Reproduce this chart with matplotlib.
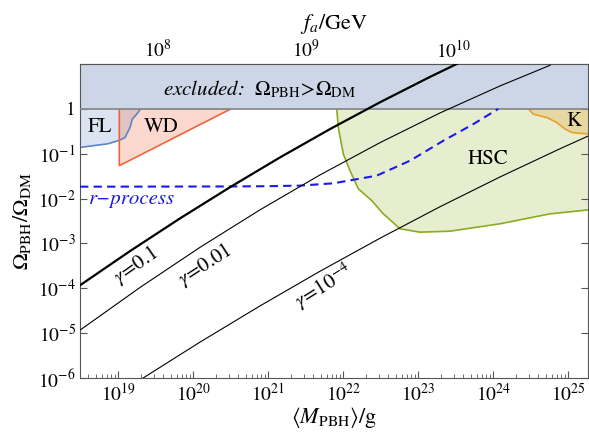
import numpy as np
import matplotlib
matplotlib.use('Agg')
import matplotlib.pyplot as plt
from matplotlib.ticker import FixedLocator, FuncFormatter, LogLocator, NullLocator, NullFormatter

plt.rcParams['font.family'] = 'STIXGeneral'
plt.rcParams['mathtext.fontset'] = 'stix'

# valores, em log10 (massa em g, Omega_PBH/Omega_DM)
gam01_logM = [18.49, 19.157, 19.823, 20.49, 21.157, 21.823, 22.49, 23.157, 23.517]
gam01_logO = [-3.933, -3.171, -2.442, -1.747, -1.082, -0.451, 0.147, 0.713, 1.004]

gam001_logM = [18.49, 19.29, 20.09, 20.89, 21.69, 22.49, 23.29, 24.09, 24.757]
gam001_logO = [-4.933, -3.982, -3.087, -2.251, -1.473, -0.753, -0.091, 0.511, 0.971]

gam1e4_logM = [19.29, 20.09, 20.89, 21.69, 22.49, 23.29, 24.09, 24.89, 25.277]
gam1e4_logO = [-6.044, -5.2, -4.393, -3.62, -2.884, -2.182, -1.518, -0.889, -0.597]

rproc_logM = [18.49, 19.5, 20.5, 21.0, 21.423, 21.867, 22.446, 22.89, 23.334, 23.734, 24.067]
rproc_logO = [-1.735, -1.733, -1.73, -1.724, -1.711, -1.66, -1.489, -1.156, -0.711, -0.34, 0.0]

fl_logM = [18.49, 18.863, 19.023, 19.09, 19.157, 19.187, 19.246, 19.299]
fl_logO = [-0.86, -0.778, -0.696, -0.638, -0.416, -0.229, -0.118, 0.0]

wd_logM = [19.014, 19.014, 20.503]
wd_logO = [0.0, -1.267, 0.0]

hsc_logM = [21.913, 21.934, 22.001, 22.09, 22.201, 22.379, 22.534, 22.757, 23.023,
            23.423, 24.09, 24.757, 25.277]
hsc_logO = [0.0, -0.416, -1.007, -1.378, -1.784, -2.044, -2.34, -2.673, -2.749,
            -2.727, -2.562, -2.34, -2.251]

k_logM = [24.467, 24.534, 24.713, 24.846, 24.957, 25.046, 25.277]
k_logO = [0.0, -0.118, -0.193, -0.304, -0.451, -0.527, -0.562]

fa_ticks = [1e8, 1e9, 1e10]

def p(v):
    return np.power(10.0, np.array(v))

fig = plt.figure(figsize=(5.89, 4.37), dpi=100)
ax = fig.add_axes([80/589, 59/437, 508/589, 314/437])
ax.set_xscale('log')
ax.set_yscale('log')
xmin, xmax = 10**18.49, 10**25.263
ax.set_xlim(xmin, xmax)
ax.set_ylim(1e-6, 10)

# regioes excluidas
ax.fill_between(p(hsc_logM), p(hsc_logO), 1, color='#96b428', alpha=0.22, lw=0, zorder=1)
ax.plot(p(hsc_logM), p(hsc_logO), color='#8aac22', lw=1.2, zorder=2)

ax.fill_between(p(k_logM), p(k_logO), 1, color='#e8a030', alpha=0.28, lw=0, zorder=1.5)
ax.plot(p(k_logM), p(k_logO), color='#e8a030', lw=1.2, zorder=2)

ax.fill_between(p(fl_logM), p(fl_logO), 1, color='#5078c0', alpha=0.2, lw=0, zorder=1)
ax.plot(p(fl_logM), p(fl_logO), color='#5b87c5', lw=1.2, zorder=2)

ax.fill(p(wd_logM), p(wd_logO), facecolor='#f0643c', alpha=0.25, lw=0, zorder=1.5)
ax.fill(p(wd_logM), p(wd_logO), facecolor='none', edgecolor='#f0643c', lw=1.2, zorder=2)

ax.fill_between([xmin, xmax], 1, 10, color='#cdd6e6', lw=0, zorder=2.5)
ax.axhline(1, color='#8a8a8a', lw=1.3, zorder=2.6)

# linhas
ax.plot(p(rproc_logM), p(rproc_logO), color='#1a1aee', lw=1.5, ls=(0, (4, 2.5)), zorder=3)
ax.plot(p(gam01_logM), p(gam01_logO), color='black', lw=1.6, zorder=4)
ax.plot(p(gam001_logM), p(gam001_logO), color='black', lw=0.8, zorder=4)
ax.plot(p(gam1e4_logM), p(gam1e4_logO), color='black', lw=0.8, zorder=4)

# textos
ax.text(10**20.89, 10**0.444, r'excluded:  $\Omega_{\mathrm{PBH}}\!>\!\Omega_{\mathrm{DM}}$',
        fontsize=15, style='italic', ha='center', va='center', zorder=5)
ax.text(10**18.757, 10**-0.415, 'FL', fontsize=15, ha='center', va='center', zorder=5)
ax.text(10**19.57, 10**-0.415, 'WD', fontsize=15, ha='center', va='center', zorder=5)
ax.text(10**23.93, 10**-1.118, 'HSC', fontsize=15, ha='center', va='center', zorder=5)
ax.text(10**25.08, 10**-0.267, 'K', fontsize=15, ha='center', va='center', zorder=5)
ax.text(10**18.6, 10**-2.0, 'r\u2212process', fontsize=15, style='italic', color='#1a1aee',
        ha='left', va='center', zorder=5)
ax.text(10**19.23, 10**-3.49, r'$\gamma\!=\!0.1$', fontsize=15, rotation=35,
        ha='center', va='center', zorder=5)
ax.text(10**20.16, 10**-3.47, r'$\gamma\!=\!0.01$', fontsize=15, rotation=33,
        ha='center', va='center', zorder=5)
ax.text(10**21.73, 10**-3.95, r'$\gamma\!=\!10^{-4}$', fontsize=15, rotation=32,
        ha='center', va='center', zorder=5)

# eixos
ax.yaxis.set_major_locator(FixedLocator([1e-6, 1e-5, 1e-4, 1e-3, 1e-2, 1e-1, 1]))
ax.yaxis.set_minor_locator(NullLocator())
ax.yaxis.set_major_formatter(FuncFormatter(
    lambda v, pos: '1' if abs(np.log10(v)) < 1e-6 else r'$10^{%d}$' % round(np.log10(v))))
ax.xaxis.set_major_locator(FixedLocator([1e19, 1e20, 1e21, 1e22, 1e23, 1e24, 1e25]))
ax.xaxis.set_minor_locator(LogLocator(base=10, subs=np.arange(2, 10), numticks=20))
ax.xaxis.set_minor_formatter(NullFormatter())

gray = '#555555'
ax.tick_params(which='both', direction='in', color=gray, labelsize=14, top=False, right=True)
ax.tick_params(which='major', length=5)
ax.tick_params(which='minor', length=3)
ax.tick_params(axis='y', which='major', pad=3)
for s in ax.spines.values():
    s.set_color(gray)

def m_to_fa(m):
    m = np.maximum(np.asarray(m, dtype=float), 1e-300)
    return 10**(9 + (np.log10(m) - 21.499) / 1.97)

def fa_to_m(f):
    f = np.maximum(np.asarray(f, dtype=float), 1e-300)
    return 10**(21.499 + 1.97 * (np.log10(f) - 9))

secax = ax.secondary_xaxis('top', functions=(m_to_fa, fa_to_m))
secax.xaxis.set_major_locator(FixedLocator(fa_ticks))
secax.xaxis.set_minor_locator(NullLocator())
secax.tick_params(direction='in', length=5, color=gray, labelsize=14, pad=2)
secax.spines['top'].set_color(gray)
secax.set_xlabel(r'$f_a/\mathrm{GeV}$', fontsize=16, labelpad=7)

ax.set_xlabel(r'$\langle M_{\mathrm{PBH}}\rangle/\mathrm{g}$', fontsize=16)
ax.xaxis.set_label_coords(0.5, (378 - 418) / 314)
ax.xaxis.label.set_va('center')
ax.set_ylabel(r'$\Omega_{\mathrm{PBH}}/\Omega_{\mathrm{DM}}$', fontsize=16)
ax.yaxis.set_label_coords((22 - 80) / 508, 0.5)
ax.yaxis.label.set_va('center')

fig.savefig('out.png', dpi=100)
